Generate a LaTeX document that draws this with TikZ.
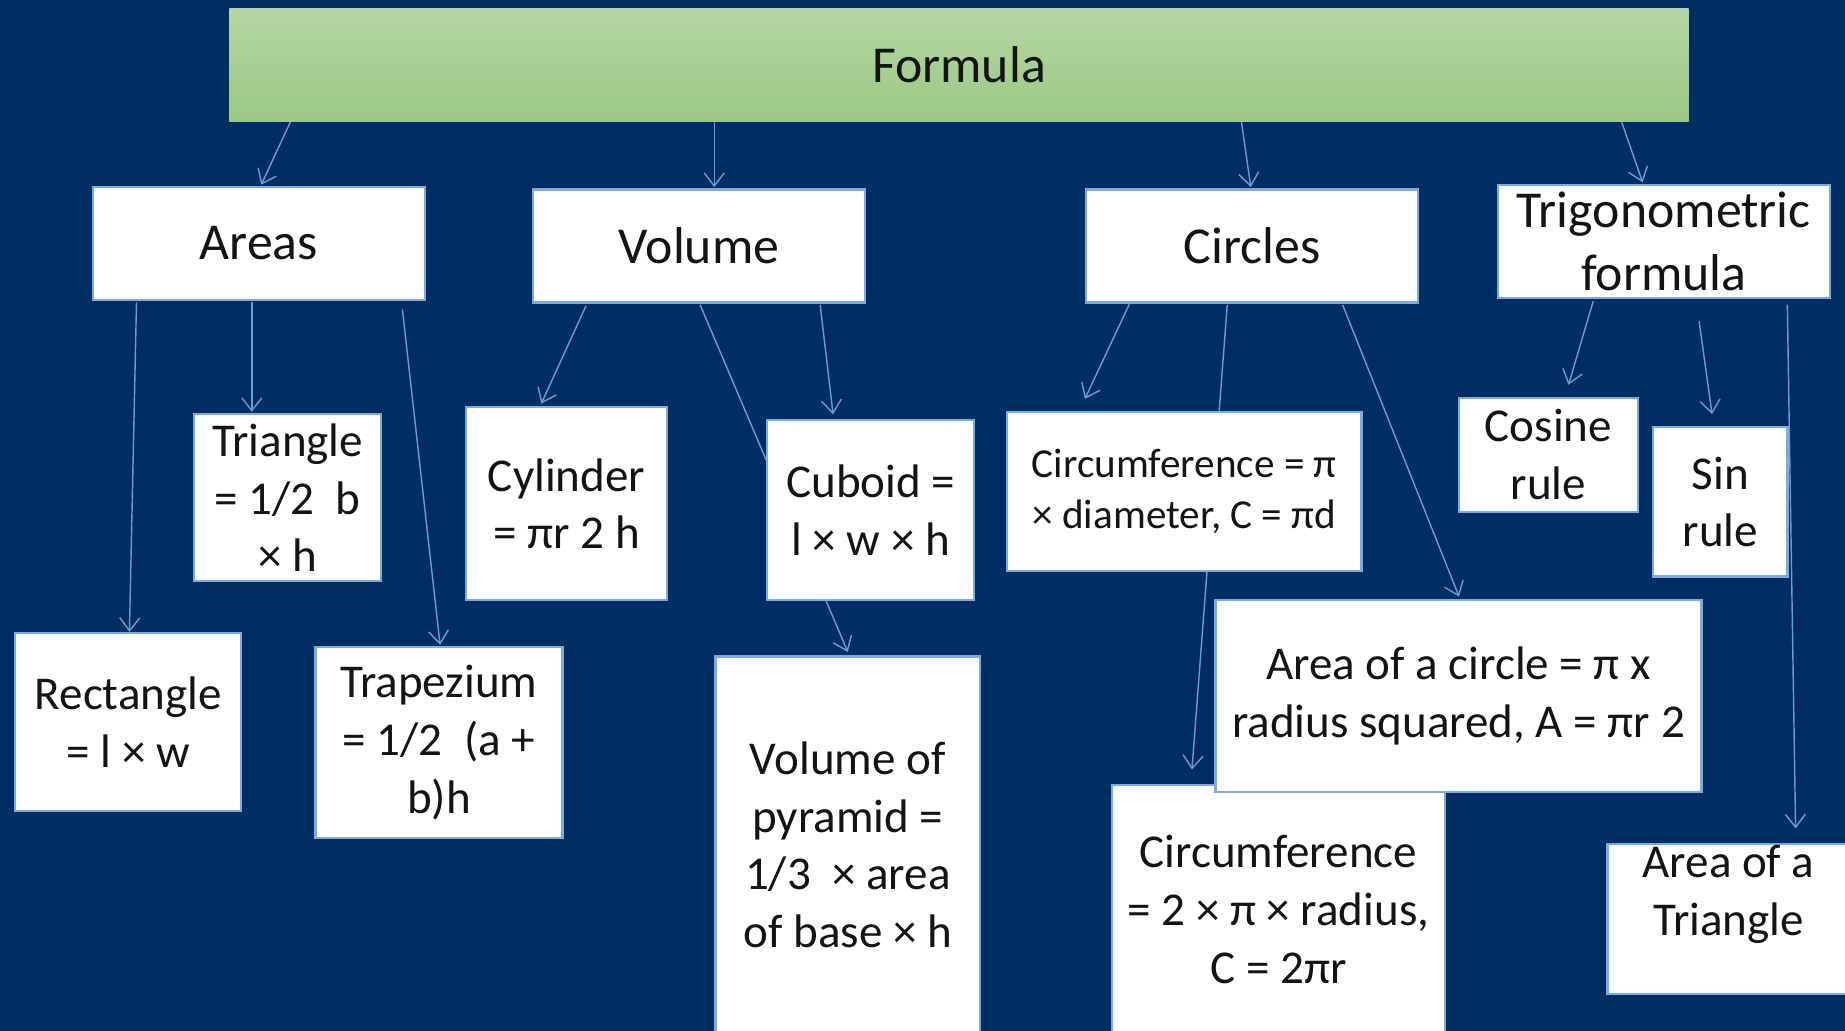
\documentclass[tikz,border=0pt]{standalone}
\usepackage{fontspec}
\setmainfont{Carlito}
\usetikzlibrary{arrows.meta,calc}
\definecolor{navy}{RGB}{0,46,99}
\definecolor{edgeblue}{RGB}{125,170,225}
\definecolor{linkblue}{RGB}{105,155,215}
\definecolor{greentop}{RGB}{181,214,163}
\definecolor{greenbot}{RGB}{155,201,132}
\definecolor{ink}{RGB}{20,20,20}
\pgfdeclarelayer{backdrop}
\pgfdeclarelayer{links}
\pgfsetlayers{backdrop,links,main}

\begin{document}
\begin{tikzpicture}[x=1pt,y=-1pt,
  box/.style={draw=edgeblue, line width=2pt, fill=white, inner sep=0pt, align=center, text=ink},
  head/.style={box, font=\fontsize{44}{53}\selectfont, minimum width=282pt, minimum height=96pt},
  leaf/.style={box, font=\fontsize{40}{49}\selectfont},
  link/.style={draw=linkblue, line width=1.2pt, -{Straight Barb[length=11pt,width=17pt]}},
]
\useasboundingbox (0,0) rectangle (1568,876);
\clip (0,0) rectangle (1568,876);
\begin{pgfonlayer}{backdrop}
  \fill[navy] (0,0) rectangle (1568,876);
\end{pgfonlayer}

% title bar
\node[minimum width=1240pt, minimum height=96pt, inner sep=0pt,
      top color=greentop, bottom color=greenbot, text=ink,
      font=\fontsize{44}{53}\selectfont] (formula) at (815,55) {Formula};

% first level
\node[head] (areas)   at (220,207)  {Areas};
\node[head] (volume)  at (594,209)  {Volume};
\node[head] (circles) at (1064,209) {Circles};
\node[head] (trig)    at (1414,205) {Trigonometric\\formula};

% areas
\node[leaf, minimum width=159pt, minimum height=142pt] (tri)  at (244.5,423) {Triangle\\= 1/2~~b\\× h};
\node[leaf, minimum width=192pt, minimum height=151pt] (rect) at (109,613.5) {Rectangle\\= l × w};
\node[leaf, minimum width=210pt, minimum height=162pt] (trap) at (373,631)   {Trapezium\\= 1/2~~(a +\\b)h};

% volume
\node[leaf, minimum width=171pt, minimum height=164pt] (cyl) at (481.5,428) {Cylinder\\= πr 2 h};
\node[leaf, minimum width=176pt, minimum height=153pt] (cub) at (740,433.5) {Cuboid =\\l × w × h};
\node[leaf, minimum width=225pt, minimum height=320pt] (pyr) at (720.5,718) {Volume of\\pyramid =\\1/3~~× area\\of base × h};

% circles
\node[box, font=\fontsize{35}{43}\selectfont, minimum width=301pt, minimum height=135pt] (circd) at (1006.5,417.5) {Circumference = π\\× diameter, C = πd};
\node[leaf, minimum width=283pt, minimum height=212pt] (circr) at (1086.5,773) {Circumference\\= 2 × π × radius,\\C = 2πr};
\node[leaf, minimum width=413pt, minimum height=163pt] (areac) at (1239.5,591.5) {Area of a circle = π x\\radius squared, A = πr 2};

% trigonometry
\node[leaf, minimum width=152pt, minimum height=97pt]  (cosr) at (1316,386.5) {Cosine\\rule};
\node[leaf, minimum width=114pt, minimum height=127pt] (sinr) at (1462,426.5) {Sin\\rule};
\node[leaf, minimum width=206pt, minimum height=128pt] (atri) at (1469,781)   {Area of a\\Triangle\\\mbox{}};

% connectors
\begin{pgfonlayer}{links}
  \draw[link] ($(formula.south)+(-568,0)$) -- ($(areas.north)+(2,-1)$);
  \draw[link] ($(formula.south)+(-208,0)$) -- ($(volume.north)+(13,-1)$);
  \draw[link] ($(formula.south)+(240,0)$)  -- ($(circles.north)+(-1,-1)$);
  \draw[link] ($(formula.south)+(563,0)$)  -- ($(trig.north)+(-18,-1)$);

  \draw[link] ($(areas.south)+(-104,1)$) -- ($(rect.north)+(1,0)$);
  \draw[link] ($(areas.south)+(-6,1)$)   -- ($(tri.north)+(-30.5,-1)$);
  \draw[link] ($(areas.south)+(122,7)$)  -- ($(trap.north)+(1,-1)$);

  \draw[link] ($(volume.south)+(-96,2)$) -- ($(cyl.north)+(-21.5,-2)$);
  \draw[link] ($(volume.south)+(1,1)$)   -- ($(pyr.north)+(0,-3)$);
  \draw[link] ($(volume.south)+(103,1)$) -- ($(cub.north)+(-32,-4)$);

  \draw[link] ($(circles.south)+(-104,0)$) -- ($(circd.north)+(-84.5,-10)$);
  \draw[link] ($(circles.south)+(-21,1)$)  -- ($(circr.north)+(-73.5,-12)$);
  \draw[link] ($(circles.south)+(77,1)$)   -- ($(areac.north)+(0.5,-2)$);

  \draw[link] ($(trig.south)+(-60,2)$) -- ($(cosr.north)+(17,-10)$);
  \draw[link] ($(trig.south)+(30,19)$) -- ($(sinr.north)+(-7,-10)$);
  \draw[link] ($(trig.south)+(105,5)$) -- ($(atri.north)+(57,-12)$);
\end{pgfonlayer}
\end{tikzpicture}
\end{document}
